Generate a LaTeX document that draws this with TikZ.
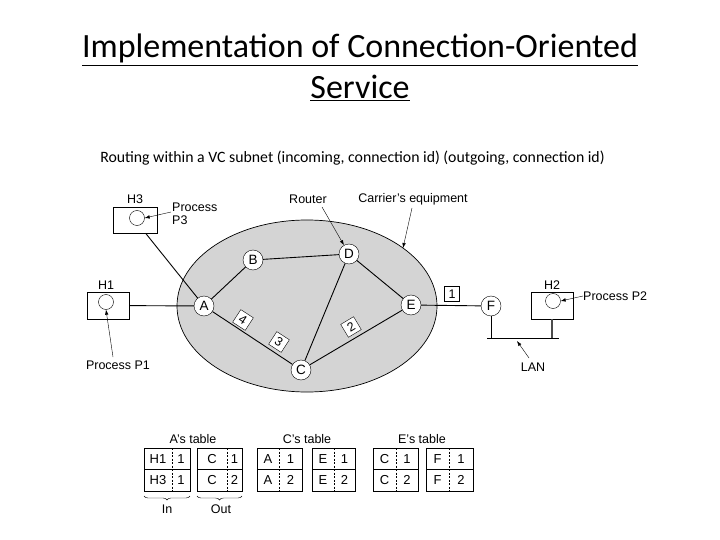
\documentclass[tikz,border=0pt]{standalone}
\usepackage{fontspec}
\setmainfont{Liberation Sans}
\newfontfamily\titlefont{Carlito}
\usetikzlibrary{arrows.meta,decorations.pathreplacing}
\newcommand\tabpart[8]{%
  \draw[tline] (#2,448) rectangle (#4,491);
  \draw[tline] (#2,469.5) -- (#4,469.5);
  \draw[tline,dashed,dash pattern=on 2pt off 1.5pt] (#3,448) -- (#3,491);
  \node[tt] (#1a) at ({(#2+#3)/2},458.75) {#5};
  \node[tt] (#1b) at ({(#3+#4)/2},458.75) {#6};
  \node[tt] (#1c) at ({(#2+#3)/2},480.25) {#7};
  \node[tt] (#1d) at ({(#3+#4)/2},480.25) {#8};
}
\begin{document}
\begin{tikzpicture}[x=1pt,y=-1pt,
  router/.style={circle,draw,fill=white,minimum size=20pt,inner sep=0pt,font=\fontsize{13.5}{14}\selectfont},
  host/.style={draw,fill=white,inner sep=0pt},
  proc/.style={circle,draw,minimum size=15pt,inner sep=0pt},
  lbl/.style={font=\fontsize{12.5}{13}\selectfont,inner sep=0pt},
  num/.style={draw,fill=white,minimum size=15pt,inner sep=0pt,font=\fontsize{12.5}{13}\selectfont},
  arr/.style={-{Latex[length=5pt,width=3.5pt]},thin},
  tline/.style={line width=0.6pt},
  tt/.style={font=\fontsize{13}{14}\selectfont,inner sep=0pt},
  link/.style={line width=0.9pt}]
\useasboundingbox (0,0) rectangle (720,540);
% title
\node[anchor=base,font=\titlefont\fontsize{34}{40}\selectfont,inner sep=0pt] (t1) at (360,58) {\underline{Implementation of Connection-Oriented}};
\node[anchor=base,font=\titlefont\fontsize{34}{40}\selectfont,inner sep=0pt] (t2) at (360,99) {\underline{Service}};
\node[anchor=base,font=\titlefont\fontsize{15.8}{18}\selectfont,inner sep=0pt] (sub) at (352.5,163) {Routing within a VC subnet (incoming, connection id) (outgoing, connection id)};
% carrier ellipse
\draw[fill={rgb,255:red,212;green,212;blue,212},line width=0.7pt] (307,306) ellipse [x radius=130, y radius=86];
\coordinate (ellpt) at (403,248);
% routers
\node[router] (A) at (204,306) {A};
\node[router] (B) at (253,260) {B};
\node[router] (C) at (301,370) {C};
\node[router] (D) at (349,254) {D};
\node[router] (E) at (411,305) {E};
\node[router] (F) at (491,306) {F};
% hosts
\node[host,minimum width=44pt,minimum height=26pt] (h3) at (135,220) {};
\node[proc] (h3p) at (137,218) {};
\node[lbl] (h3l) at (135,199) {H3};
\node[host,minimum width=42pt,minimum height=27pt] (h1) at (108,305.5) {};
\node[proc] (h1p) at (106,302) {};
\node[lbl] (h1l) at (106,285) {H1};
\node[host,minimum width=42pt,minimum height=27pt] (h2) at (552,305.5) {};
\node[proc] (h2p) at (553,301) {};
\node[lbl] (h2l) at (552,285) {H2};
% links
\draw[link] (A) -- (B);
\draw[link] (B) -- (D);
\draw[link] (D) -- (E);
\draw[link] (D) -- (C);
\draw[link] (A) -- (C);
\draw[link] (C) -- (E);
\draw[link] (E) -- (F);
\draw[link] (h1) -- (A);
\draw[link] (h3) -- (A);
% LAN
\coordinate (lanL) at (487,338);
\coordinate (lanR) at (559,338);
\draw[link] (lanL) -- (lanR);
\draw[link] (F) -- (F |- lanL);
\draw[line width=1.5pt,black!70] (h2.south) -- (h2.south |- lanL);
% connection-id labels
\node[num,rotate=-33] (n4) at (243,320) {4};
\node[num,rotate=-33] (n3) at (279,342) {3};
\node[num,rotate=31] (n2) at (351,327) {2};
\node[num] (n1) at (452,294) {1};
% labels and arrows
\node[lbl,align=left,anchor=north west] (p3) at (172,203) {Process\\P3};
\draw[arr] (171,212) -- (h3p.east);
\node[lbl] (p1) at (118,365) {Process P1};
\draw[arr] (113,357) -- (h1p.south);
\node[lbl,anchor=west] (p2) at (583,296) {Process P2};
\draw[arr] (p2.west) -- (h2p.east);
\node[lbl] (rt) at (308,199) {Router};
\draw[arr] (322,207) -- (D);
\node[lbl] (ce) at (413,199) {Carrier's equipment};
\draw[arr] (412,208) -- (ellpt);
\node[lbl] (lan) at (533,367) {LAN};
\draw[arr] (529,358) -- (517,341);
% tables
\node[lbl] (at) at (193,439) {A's table};
\node[lbl] (ct) at (307,439) {C's table};
\node[lbl] (et) at (422,439) {E's table};
\tabpart{ta}{144}{172}{190}{H1}{1}{H3}{1}
\tabpart{tb}{197}{227}{242}{C}{1}{C}{2}
\tabpart{tc}{257}{279}{302}{A}{1}{A}{2}
\tabpart{td}{312}{334}{355}{E}{1}{E}{2}
\tabpart{te}{373}{396}{418}{C}{1}{C}{2}
\tabpart{tf}{426}{449}{473}{F}{1}{F}{2}
\draw[decorate,decoration={brace,mirror,amplitude=4pt},thin] (144,496) -- (190,496);
\draw[decorate,decoration={brace,mirror,amplitude=4pt},thin] (197,496) -- (242,496);
\node[lbl] (in) at (167,509) {In};
\node[lbl] (out) at (221,509) {Out};
\end{tikzpicture}
\end{document}
